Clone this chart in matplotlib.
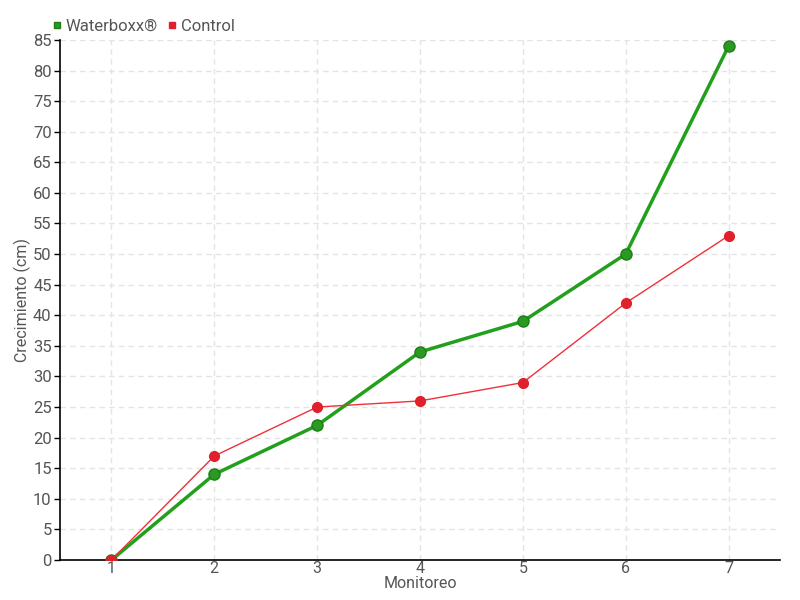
import matplotlib.pyplot as plt

# datos
monitoreo = [1, 2, 3, 4, 5, 6, 7]
waterboxx = [0, 14, 22, 34, 39, 50, 84]
control = [0, 17, 25, 26, 29, 42, 53]

plt.rcParams['font.family'] = ['Roboto', 'DejaVu Sans']

fig = plt.figure(figsize=(8, 6), dpi=100)
ax = fig.add_axes([0.075, 0.0667, 0.9, 0.8667])

ax.plot(monitoreo, waterboxx, color='#22a01c', lw=2.5, marker='o', ms=8,
        markerfacecolor='#2a9a22', markeredgecolor='#1f7d19', markeredgewidth=1,
        label='Waterboxx®', zorder=3)
ax.plot(monitoreo, control, color='#f0303a', lw=1, marker='o', ms=7,
        markerfacecolor='#e0202a', markeredgecolor='#e0202a', label='Control', zorder=4)

ax.set_xlim(0.5, 7.5)
ax.set_ylim(0, 85)
ax.set_xticks(monitoreo)
ax.set_yticks(range(0, 86, 5))
ax.grid(True, color='#e4e4e4', linestyle=(0, (4, 3)), lw=1)
ax.set_axisbelow(True)
for s in ['top', 'right']:
    ax.spines[s].set_visible(False)
ax.spines['left'].set_linewidth(1.2)
ax.spines['bottom'].set_linewidth(1.2)
ax.tick_params(axis='both', labelsize=12, labelcolor='#555555', length=4, width=1)
ax.tick_params(axis='y', pad=2)
ax.tick_params(axis='x', length=0, pad=1, labelsize=11.5)

ax.set_xlabel('Monitoreo', fontsize=11.5, color='#555555')
ax.set_ylabel('Crecimiento (cm)', fontsize=11.5, color='#555555')
ax.xaxis.set_label_coords(0.5, -0.031)
ax.yaxis.set_label_coords(-0.04, 0.5)

ax.legend(loc='lower left', bbox_to_anchor=(-0.022, 0.995), ncol=2, frameon=False,
          fontsize=12, handlelength=0.5, handletextpad=0.3, columnspacing=0.6,
          labelcolor='#555555', markerscale=0.55, borderaxespad=0.1)
leg = ax.get_legend()
for h in leg.legend_handles:
    h.set_linestyle('None')
    h.set_marker('s')

fig.savefig('out.png', dpi=100)
